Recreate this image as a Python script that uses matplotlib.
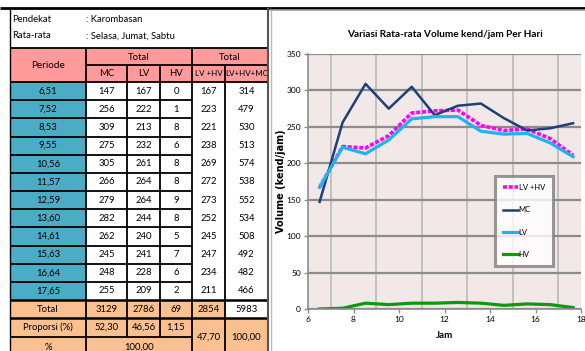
import numpy as np
import matplotlib
matplotlib.use('Agg')
import matplotlib.pyplot as plt
from matplotlib.patches import Rectangle

# ------------------------------------------------
# DATA
# ------------------------------------------------

jam = [6.51, 7.52, 8.53, 9.55, 10.56, 11.57, 12.59, 13.60, 14.61, 15.63, 16.64, 17.65]
mc = [147, 256, 309, 275, 305, 266, 279, 282, 262, 245, 248, 255]
lv = [167, 222, 213, 232, 261, 264, 264, 244, 240, 241, 228, 209]
hv = [0, 1, 8, 6, 8, 8, 9, 8, 5, 7, 6, 2]
lv_hv = [167, 223, 221, 238, 269, 272, 273, 252, 245, 247, 234, 211]
lv_hv_mc = [314, 479, 530, 513, 574, 538, 552, 534, 508, 492, 482, 466]

# totals and shares as printed in the survey sheet
total_row = [3129, 2786, 69, 2854, 5983]
proporsi = [52.30, 46.56, 1.15]
proporsi_lvhv = 47.70
proporsi_all = 100.00
persen = 100.00

pendekat = ': Karombasan'
rata_rata = ': Selasa, Jumat, Sabtu'

yticks = [0, 50, 100, 150, 200, 250, 300, 350]
xticks = [6, 8, 10, 12, 14, 16, 18]

def idn(v, nd=2):
    return f"{v:.{nd}f}".replace('.', ',')

# ------------------------------------------------
# FIGURE + TABLE CANVAS (pixel coords)
# ------------------------------------------------

FONT = ['Lato', 'Liberation Sans', 'DejaVu Sans']

fig = plt.figure(figsize=(5.85, 3.51), dpi=100)
tab = fig.add_axes([0, 0, 1, 1])
tab.set_xlim(0, 585)
tab.set_ylim(351, 0)
tab.axis('off')

PINK = '#FF9B9B'
TEAL = '#4BACC6'
PEACH = '#FAC090'

cx = [10, 86, 127, 160, 192, 225, 268]
rh = (300 - 82) / 12.0
ry = [82 + rh * i for i in range(13)]

def cell(x0, x1, y0, y1, color):
    tab.add_patch(Rectangle((x0, y0), x1 - x0, y1 - y0, fc=color, ec='none', zorder=1))

def hl(y, x0, x1, lw=1.3, c='black'):
    tab.plot([x0, x1], [y, y], color=c, lw=lw, zorder=3, solid_capstyle='butt')

def vl(x, y0, y1, lw=1.3, c='black'):
    tab.plot([x, x], [y0, y1], color=c, lw=lw, zorder=3, solid_capstyle='butt')

def txt(x, y, s, ha='center', size=6.8):
    tab.text(x, y, s, ha=ha, va='center', fontsize=size, family=FONT, zorder=4)

# header
cell(cx[0], cx[-1], 48, 82, PINK)
# data rows
cell(cx[0], cx[1], 82, 300, TEAL)
# bottom rows
cell(cx[0], cx[5], 300, 356, PEACH)
cell(cx[5], cx[6], 318, 356, PEACH)

# info rows
txt(12, 20, 'Pendekat', ha='left')
txt(86, 20, pendekat, ha='left')
txt(12, 36, 'Rata-rata', ha='left')
txt(86, 36, rata_rata, ha='left')

# header text
txt((cx[0] + cx[1]) / 2, 65, 'Periode', size=7.2)
txt((cx[1] + cx[4]) / 2, 57, 'Total')
txt((cx[4] + cx[6]) / 2, 57, 'Total')
for i, h in enumerate(['MC', 'LV', 'HV', 'LV +HV', 'LV+HV+MC']):
    txt((cx[i + 1] + cx[i + 2]) / 2, 74, h, size=6.8 if i < 3 else 5.8)

# data rows
for r in range(12):
    yc = (ry[r] + ry[r + 1]) / 2
    vals = [idn(jam[r]), mc[r], lv[r], hv[r], lv_hv[r], lv_hv_mc[r]]
    for c, v in enumerate(vals):
        txt((cx[c] + cx[c + 1]) / 2, yc, str(v))

# total row
for c, v in enumerate(['Total'] + total_row):
    txt((cx[c] + cx[c + 1]) / 2, 309, str(v))

# proporsi row
txt((cx[0] + cx[1]) / 2, 327, 'Proporsi (%)')
for c, v in enumerate(proporsi):
    txt((cx[c + 1] + cx[c + 2]) / 2, 327, idn(v))
txt((cx[4] + cx[5]) / 2, 337, idn(proporsi_lvhv))
txt((cx[5] + cx[6]) / 2, 337, idn(proporsi_all))

# % row
txt((cx[0] + cx[1]) / 2, 347, '%')
txt((cx[1] + cx[4]) / 2, 347, idn(persen))

# grid lines
hl(8, 0, 270, lw=2)
hl(48, cx[0], cx[6])
hl(65, cx[1], cx[6])
hl(82, cx[0], cx[6])
for y in ry[1:12]:
    hl(y, cx[0], cx[4])
hl(300, cx[0], cx[6], lw=1.8)
hl(318, cx[0], cx[6], lw=1.8)
hl(337, cx[0], cx[4])

vl(cx[0], 8, 351, lw=1.0)
vl(cx[1], 48, 351)
for x in cx[2:4]:
    vl(x, 65, 337)
vl(cx[4], 48, 351)
vl(cx[5], 65, 351)
vl(cx[6], 8, 351, lw=1.5, c='#555555')

# chart panel frame
hl(8, 270, 585, lw=2)
hl(10, 270, 585, lw=1.2, c='#999999')
vl(271, 10, 351, lw=1.0, c='#BBBBBB')

# ------------------------------------------------
# CHART
# ------------------------------------------------

ax = fig.add_axes([308 / 585, (351 - 309) / 351, (581 - 308) / 585, (309 - 54) / 351])
ax.set_facecolor('#F2E8E8')

ax.plot(jam, lv_hv, color='#FF00FF', lw=2.6, ls=(0, (1.1, 0.5)), label='LV +HV')
ax.plot(jam, mc, color='#1F3F78', lw=1.8, label='MC')
ax.plot(jam, lv, color='#1EB4F0', lw=2.3, label='LV')
ax.plot(jam, hv, color='#0A9A0A', lw=2.3, label='HV')

ax.set_xlim(6, 18)
ax.set_ylim(0, 350)
ax.set_xticks(xticks)
ax.set_xticks(range(6, 19), minor=True)
ax.set_yticks(yticks)
ax.grid(True, which='major', axis='y', color='#8C8C8C', lw=1.6)
ax.grid(True, which='minor', axis='x', color='#BDBDBD', lw=1.3)
ax.set_axisbelow(True)
ax.tick_params(which='minor', length=0)
ax.tick_params(which='major', length=3, width=1, color='#8C8C8C', labelsize=6, pad=2)
for lab in ax.get_xticklabels() + ax.get_yticklabels():
    lab.set_family(FONT)
for s in ['top', 'right']:
    ax.spines[s].set_visible(False)
for s in ['left', 'bottom']:
    ax.spines[s].set_color('#8C8C8C')
    ax.spines[s].set_linewidth(1.2)

ax.set_title('Variasi Rata-rata Volume kend/jam Per Hari', fontsize=7.2,
             fontweight='bold', family=FONT, pad=12)
ax.set_xlabel('Jam', fontsize=7, fontweight='bold', family=FONT, labelpad=6)
ax.set_ylabel('Volume (kend/jam)', fontsize=7, fontweight='bold',
              family='DejaVu Sans', labelpad=0)

leg = ax.legend(loc='upper left', bbox_to_anchor=(0.685, 0.52),
                frameon=True, fancybox=False, labelspacing=2.0, handlelength=2.0,
                handletextpad=0.1, borderpad=1.0, borderaxespad=0,
                prop={'family': FONT, 'size': 5.5})
leg.get_frame().set_edgecolor('#7F7F7F')
leg.get_frame().set_linewidth(2.2)

fig.savefig('out.png', dpi=100)
